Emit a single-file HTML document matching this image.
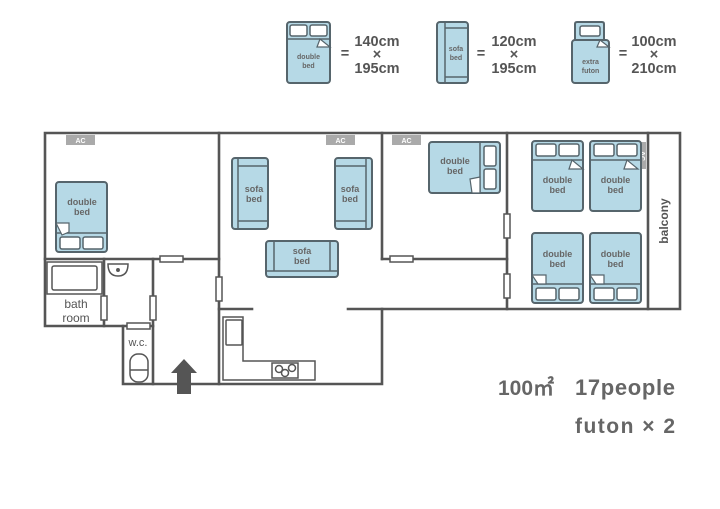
<!DOCTYPE html>
<html><head><style>
html,body{margin:0;padding:0;background:#fff}
svg{display:block}
text{font-family:"Liberation Sans",sans-serif;font-weight:bold;fill:#666}
</style></head><body>
<svg width="720" height="509" viewBox="0 0 720 509" xmlns="http://www.w3.org/2000/svg">
<defs>
<g id="dbl">
<rect x="0" y="0" width="51" height="70" rx="3" fill="#b6d9e6" stroke="#56656c" stroke-width="2"/>
<line x1="0" y1="51" x2="51" y2="51" stroke="#56656c" stroke-width="1.5"/>
<rect x="4" y="55" width="20" height="12" rx="2" fill="#fff" stroke="#56656c" stroke-width="1.5"/>
<rect x="27" y="55" width="20" height="12" rx="2" fill="#fff" stroke="#56656c" stroke-width="1.5"/>
</g>
</defs>
<g stroke="#555" stroke-width="2.6" fill="none" stroke-linecap="square">
<polyline points="45,133 680,133 680,309 382,309 382,384 123,384 123,326 45,326 45,133"/>
<line x1="45" y1="259" x2="219" y2="259"/>
<line x1="219" y1="133" x2="219" y2="384"/>
<line x1="104" y1="259" x2="104" y2="326"/>
<line x1="153" y1="259" x2="153" y2="384"/>
<line x1="123" y1="326" x2="153" y2="326"/>
<line x1="219" y1="309" x2="252" y2="309"/>
<line x1="348" y1="309" x2="382" y2="309"/>
<line x1="382" y1="133" x2="382" y2="259"/>
<line x1="382" y1="259" x2="507" y2="259"/>
<line x1="507" y1="133" x2="507" y2="309"/>
<line x1="648" y1="133" x2="648" y2="309"/>
</g>
<g fill="#fff" stroke="#555" stroke-width="1.5">
<rect x="160" y="256" width="23" height="6"/>
<rect x="101" y="296" width="6" height="24"/>
<rect x="150" y="296" width="6" height="24"/>
<rect x="127" y="323" width="23" height="6"/>
<rect x="216" y="277" width="6" height="24"/>
<rect x="390" y="256" width="23" height="6"/>
<rect x="504" y="214" width="6" height="24"/>
<rect x="504" y="274" width="6" height="24"/>
</g>
<g>
<rect x="66" y="135" width="29" height="10" fill="#aaa"/><text x="80.5" y="143" font-size="7" text-anchor="middle" style="fill:#fff">AC</text>
<rect x="326" y="135" width="29" height="10" fill="#aaa"/><text x="340.5" y="143" font-size="7" text-anchor="middle" style="fill:#fff">AC</text>
<rect x="392" y="135" width="29" height="10" fill="#aaa"/><text x="406.5" y="143" font-size="7" text-anchor="middle" style="fill:#fff">AC</text>
<rect x="635" y="142" width="11" height="27" fill="#aaa"/><text x="640" y="156" font-size="7" text-anchor="middle" style="fill:#fff" transform="rotate(90 640 156)">AC</text>
</g>
<use href="#dbl" x="56" y="182"/>
<path d="M56 223 L69 223 L69 232 L62 235 Z" fill="#fff" stroke="#56656c" stroke-width="1.2"/>
<text x="82" y="205" font-size="9" text-anchor="middle">double</text><text x="82" y="215" font-size="9" text-anchor="middle">bed</text>
<g fill="#b6d9e6" stroke="#56656c" stroke-width="2">
<rect x="232" y="158" width="36" height="71" rx="3"/>
<rect x="335" y="158" width="37" height="71" rx="3"/>
<rect x="266" y="241" width="72" height="36" rx="3"/>
</g>
<g stroke="#56656c" stroke-width="1.5" fill="none">
<path d="M238 158 V229 M238 166 H268 M238 221 H268"/>
<path d="M366 158 V229 M335 166 H366 M335 221 H366"/>
<path d="M266 271 H338 M274 241 V271 M330 241 V271"/>
</g>
<text x="254" y="192" font-size="9" text-anchor="middle">sofa</text><text x="254" y="202" font-size="9" text-anchor="middle">bed</text>
<text x="350" y="192" font-size="9" text-anchor="middle">sofa</text><text x="350" y="202" font-size="9" text-anchor="middle">bed</text>
<text x="302" y="254" font-size="9" text-anchor="middle">sofa</text><text x="302" y="264" font-size="9" text-anchor="middle">bed</text>
<g fill="none" stroke="#555" stroke-width="1.5">
<path d="M223 317 H243 V361 H315 V380 H223 Z"/>
<rect x="226" y="320" width="16" height="25" rx="1"/>
<rect x="272" y="363" width="26" height="15"/>
<circle cx="279" cy="369" r="3.5"/><circle cx="285" cy="373" r="3.5"/><circle cx="292" cy="368" r="3.5"/>
</g>
<g fill="none" stroke="#555" stroke-width="1.5">
<rect x="47" y="262" width="55" height="32"/>
<rect x="52" y="266" width="45" height="24" rx="2"/>
<path d="M108 264 h20 q0 12 -10 12 q-10 0 -10 -12z"/>
<circle cx="118" cy="270" r="1.2" fill="#555"/>
<rect x="130" y="354" width="18" height="28" rx="8"/>
<line x1="130" y1="370" x2="148" y2="370"/>
</g>
<text x="76" y="308" font-size="12" text-anchor="middle" style="font-weight:normal;fill:#555">bath</text>
<text x="76" y="322" font-size="12" text-anchor="middle" style="font-weight:normal;fill:#555">room</text>
<text x="138" y="346" font-size="11" text-anchor="middle" style="font-weight:normal;fill:#555">w.c.</text>
<path d="M184 359 L197 373 L191 373 L191 394 L177 394 L177 373 L171 373 Z" fill="#555"/>
<rect x="429" y="142" width="71" height="51" rx="3" fill="#b6d9e6" stroke="#56656c" stroke-width="2"/>
<line x1="480" y1="142" x2="480" y2="193" stroke="#56656c" stroke-width="1.5"/>
<rect x="484" y="146" width="12" height="20" rx="2" fill="#fff" stroke="#56656c" stroke-width="1.5"/>
<rect x="484" y="169" width="12" height="20" rx="2" fill="#fff" stroke="#56656c" stroke-width="1.5"/>
<path d="M470 179 L480 177 L480 193 L472 193 Z" fill="#fff" stroke="#56656c" stroke-width="1.2"/>
<text x="455" y="164" font-size="9" text-anchor="middle">double</text><text x="455" y="174" font-size="9" text-anchor="middle">bed</text>
<g transform="translate(532,141)">
<rect x="0" y="0" width="51" height="70" rx="3" fill="#b6d9e6" stroke="#56656c" stroke-width="2"/>
<line x1="0" y1="19" x2="51" y2="19" stroke="#56656c" stroke-width="1.5"/>
<rect x="4" y="3" width="20" height="12" rx="2" fill="#fff" stroke="#56656c" stroke-width="1.5"/>
<rect x="27" y="3" width="20" height="12" rx="2" fill="#fff" stroke="#56656c" stroke-width="1.5"/>
<path d="M37 28 L40 19 L51 28 Z" fill="#fff" stroke="#56656c" stroke-width="1.2"/>
<text x="25.5" y="42" font-size="9" text-anchor="middle">double</text><text x="25.5" y="52" font-size="9" text-anchor="middle">bed</text>
</g>
<g transform="translate(590,141)">
<rect x="0" y="0" width="51" height="70" rx="3" fill="#b6d9e6" stroke="#56656c" stroke-width="2"/>
<line x1="0" y1="19" x2="51" y2="19" stroke="#56656c" stroke-width="1.5"/>
<rect x="4" y="3" width="20" height="12" rx="2" fill="#fff" stroke="#56656c" stroke-width="1.5"/>
<rect x="27" y="3" width="20" height="12" rx="2" fill="#fff" stroke="#56656c" stroke-width="1.5"/>
<path d="M34 28 L37 19 L48 28 Z" fill="#fff" stroke="#56656c" stroke-width="1.2"/>
<text x="25.5" y="42" font-size="9" text-anchor="middle">double</text><text x="25.5" y="52" font-size="9" text-anchor="middle">bed</text>
</g>
<g transform="translate(532,233)">
<use href="#dbl"/>
<path d="M0 42 L14 42 L14 51 L6 51 Z" fill="#fff" stroke="#56656c" stroke-width="1.2"/>
<text x="25.5" y="24" font-size="9" text-anchor="middle">double</text><text x="25.5" y="34" font-size="9" text-anchor="middle">bed</text>
</g>
<g transform="translate(590,233)">
<use href="#dbl"/>
<path d="M0 42 L14 42 L14 51 L6 51 Z" fill="#fff" stroke="#56656c" stroke-width="1.2"/>
<text x="25.5" y="24" font-size="9" text-anchor="middle">double</text><text x="25.5" y="34" font-size="9" text-anchor="middle">bed</text>
</g>
<text x="668" y="221" font-size="12" text-anchor="middle" transform="rotate(-90 668 221)" style="fill:#555">balcony</text>
<g transform="translate(287,22)">
<rect x="0" y="0" width="43" height="61" rx="3" fill="#b6d9e6" stroke="#56656c" stroke-width="2"/>
<line x1="0" y1="17" x2="43" y2="17" stroke="#56656c" stroke-width="1.5"/>
<rect x="3" y="3" width="17" height="11" rx="2" fill="#fff" stroke="#56656c" stroke-width="1.5"/>
<rect x="23" y="3" width="17" height="11" rx="2" fill="#fff" stroke="#56656c" stroke-width="1.5"/>
<path d="M30 25 L33 17 L43 25 Z" fill="#fff" stroke="#56656c" stroke-width="1.2"/>
<text x="21.5" y="37" font-size="7" text-anchor="middle">double</text><text x="21.5" y="46" font-size="7" text-anchor="middle">bed</text>
</g>
<g transform="translate(437,22)">
<rect x="0" y="0" width="31" height="61" rx="3" fill="#b6d9e6" stroke="#56656c" stroke-width="2"/>
<path d="M8 0 V61 M8 6 H31 M8 55 H31" stroke="#56656c" stroke-width="1.5" fill="none"/>
<text x="19" y="29" font-size="7" text-anchor="middle">sofa</text><text x="19" y="38" font-size="7" text-anchor="middle">bed</text>
</g>
<g transform="translate(572,22)">
<path d="M3 18 V2 Q3 0 5 0 H30 Q32 0 32 2 V18" fill="#b6d9e6" stroke="#56656c" stroke-width="2"/>
<rect x="0" y="18" width="37" height="43" rx="3" fill="#b6d9e6" stroke="#56656c" stroke-width="2"/>
<rect x="8" y="4" width="20" height="10" rx="2" fill="#fff" stroke="#56656c" stroke-width="1.5"/>
<path d="M25 25 L28 18 L37 25 Z" fill="#fff" stroke="#56656c" stroke-width="1.2"/>
<text x="18.5" y="42" font-size="7" text-anchor="middle">extra</text><text x="18.5" y="51" font-size="7" text-anchor="middle">futon</text>
</g>
<g font-size="14.5">
<text x="345" y="58" text-anchor="middle" style="fill:#555">=</text>
<text x="377" y="46" text-anchor="middle" style="fill:#555">140cm</text>
<text x="377" y="59" text-anchor="middle" style="fill:#555">×</text>
<text x="377" y="73" text-anchor="middle" style="fill:#555">195cm</text>
<text x="481" y="58" text-anchor="middle" style="fill:#555">=</text>
<text x="514" y="46" text-anchor="middle" style="fill:#555">120cm</text>
<text x="514" y="59" text-anchor="middle" style="fill:#555">×</text>
<text x="514" y="73" text-anchor="middle" style="fill:#555">195cm</text>
<text x="623" y="58" text-anchor="middle" style="fill:#555">=</text>
<text x="654" y="46" text-anchor="middle" style="fill:#555">100cm</text>
<text x="654" y="59" text-anchor="middle" style="fill:#555">×</text>
<text x="654" y="73" text-anchor="middle" style="fill:#555">210cm</text>
</g>
<text x="498" y="395" font-size="21" style="fill:#666">100㎡</text>
<text x="575" y="395" font-size="22" textLength="100" style="fill:#666">17people</text>
<text x="575" y="433" font-size="21" textLength="100" style="fill:#666">futon × 2</text>
</svg>
</body></html>
